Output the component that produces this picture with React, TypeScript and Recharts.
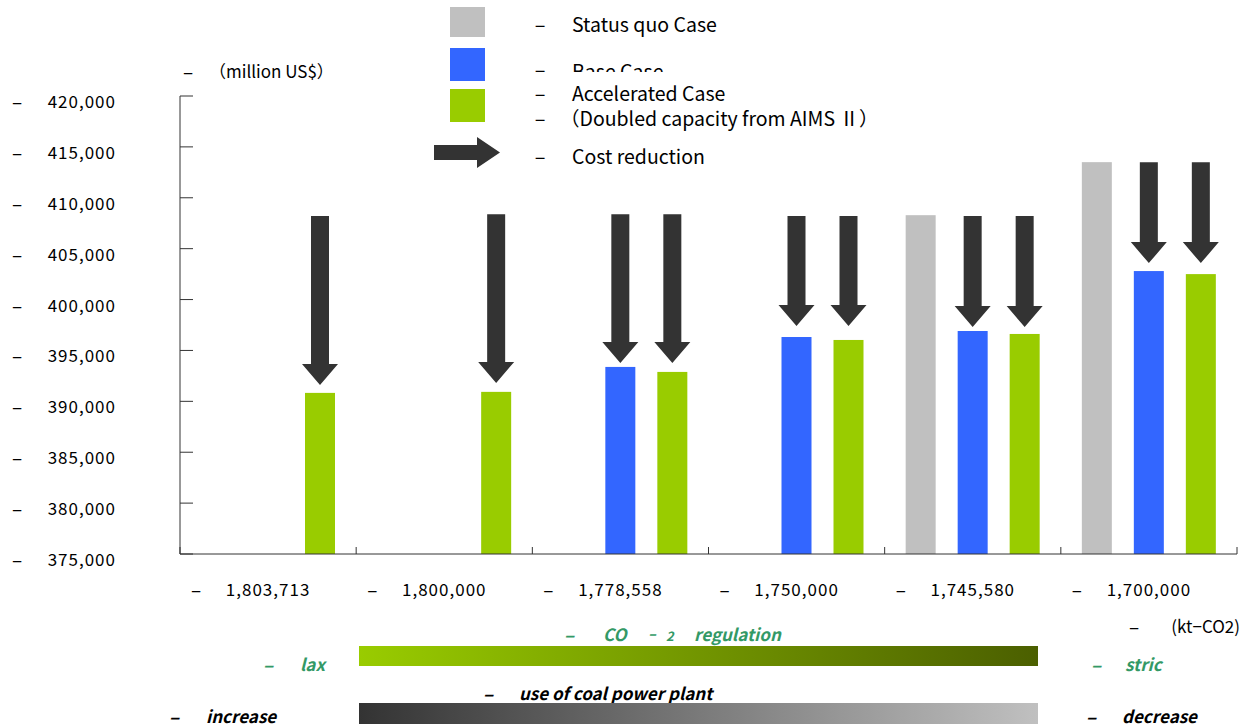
import React from 'react';
import { BarChart, Bar, XAxis, YAxis } from 'recharts';

// ---- data ----
const categories = ['1,803,713', '1,800,000', '1,778,558', '1,750,000', '1,745,580', '1,700,000'];
const statusQuo: (number | null)[] = [null, null, null, null, 408290, 413500];
const baseCase: (number | null)[] = [null, null, 393380, 396320, 396910, 402800];
const accelerated: (number | null)[] = [390830, 390930, 392890, 396030, 396620, 402500];
// cost-reduction arrows (start level and tip level)
const arrowFrom: number[] = [408200, 408390, 408390, 408200, 408200, 413500];
const baseArrowTo: (number | null)[] = [null, null, 393770, 397400, 397300, 403580];
const accelArrowTo: (number | null)[] = [391610, 391810, 393770, 397400, 397300, 403580];
const yTicks = [375000, 380000, 385000, 390000, 395000, 400000, 405000, 410000, 415000, 420000];

const data = categories.map((c, i) => ({
  category: c,
  statusQuo: statusQuo[i],
  base: baseCase[i],
  accel: accelerated[i],
  arrowFrom: arrowFrom[i],
  baseTo: baseArrowTo[i],
  accelTo: accelArrowTo[i],
}));

// ---- layout / style ----
const W = 1243;
const H = 727;
const MARGIN = { top: 96, right: 6, left: 0, bottom: 143 };
const Y_AXIS_W = 180;
const X_AXIS_H = 30;
const PLOT_W = W - MARGIN.left - MARGIN.right - Y_AXIS_W;
const BAND = PLOT_W / categories.length;
const Y_MIN = 375000;
const Y_MAX = 420000;

const GRAY = '#c0c0c0';
const BLUE = '#3366ff';
const GREEN = '#99cc00';
const ARROW = '#333333';
const AXIS = '#333333';
const TEXT_GREEN = '#339966';
const FONT = "'Noto Sans CJK JP', 'Noto Sans', sans-serif";

function arrowDown(cx: number, yTop: number, yTip: number, shaftW: number, headW: number, headLen: number) {
  const yHead = yTip - headLen;
  return `M${cx - shaftW / 2},${yTop} L${cx + shaftW / 2},${yTop} L${cx + shaftW / 2},${yHead} L${cx + headW / 2},${yHead} L${cx},${yTip} L${cx - headW / 2},${yHead} L${cx - shaftW / 2},${yHead} Z`;
}

const makeShape = (valueKey: string, toKey: string | null, fill: string) => (props: any) => {
  const { x, y, width, height, payload } = props;
  const v = payload ? payload[valueKey] : null;
  if (v == null || !(height > 0)) return <g />;
  const bottom = y + height;
  const ppu = height / (v - Y_MIN);
  const yOf = (val: number) => bottom - (val - Y_MIN) * ppu;
  const to = toKey ? payload[toKey] : null;
  return (
    <g>
      <rect x={x} y={y} width={width} height={height} fill={fill} />
      {to != null && payload.arrowFrom != null && (
        <path d={arrowDown(x + width / 2, yOf(payload.arrowFrom), yOf(to), 18, 36, 21)} fill={ARROW} />
      )}
    </g>
  );
};

const YTick = (props: any) => {
  const { y, payload } = props;
  return (
    <g fontFamily={FONT} fontSize={17} fill="#000">
      <text x={17} y={y + 4.5} textAnchor="middle" dominantBaseline="central" fontSize={19}>–</text>
      <text x={116} y={y + 4.5} textAnchor="end" dominantBaseline="central" letterSpacing={1}>
        {Number(payload.value).toLocaleString('en-US')}
      </text>
    </g>
  );
};

const XTick = (props: any) => {
  const { x, y, payload, index } = props;
  const half = BAND / 2;
  return (
    <g fontFamily={FONT} fontSize={17} fill="#000">
      <line x1={x - half} x2={x - half} y1={y} y2={y - 7} stroke={AXIS} />
      {index === categories.length - 1 && <line x1={x + half} x2={x + half} y1={y} y2={y - 7} stroke={AXIS} />}
      <text x={x - 72} y={y + 34} textAnchor="middle" dominantBaseline="central" fontSize={19}>–</text>
      <text x={x} y={y + 34} textAnchor="middle" dominantBaseline="central" letterSpacing={1}>
        {payload.value}
      </text>
    </g>
  );
};

const Dash = ({ x, y, fill = '#000', size = 19 }: any) => (
  <text x={x} y={y} textAnchor="middle" dominantBaseline="central" fontSize={size} fill={fill} fontFamily={FONT}>–</text>
);

const Overlay = () => (
  <svg width={W} height={H} style={{ position: 'absolute', left: 0, top: 0, pointerEvents: 'none' }} fontFamily={FONT}>
    <defs>
      <linearGradient id="gGreen" x1="0" x2="1" y1="0" y2="0">
        <stop offset="0%" stopColor="#99cc00" />
        <stop offset="100%" stopColor="#4b5f00" />
      </linearGradient>
      <linearGradient id="gGray" x1="0" x2="1" y1="0" y2="0">
        <stop offset="0%" stopColor="#333333" />
        <stop offset="100%" stopColor="#c0c0c0" />
      </linearGradient>
      <clipPath id="clipBase">
        <rect x={520} y={0} width={300} height={72} />
      </clipPath>
    </defs>

    {/* legend */}
    <rect x={450} y={7} width={35} height={30} fill={GRAY} />
    <rect x={450} y={48} width={35} height={33} fill={BLUE} />
    <rect x={450} y={89} width={35} height={33} fill={GREEN} />
    <path d="M434,145 L477,145 L477,137 L500,152.5 L477,168 L477,160 L434,160 Z" fill={ARROW} />

    <g fontSize={19.5} fill="#000">
      <Dash x={540} y={23} size={20} />
      <text x={572} y={23} dominantBaseline="central">Status quo Case</text>
      <Dash x={540} y={68} size={20} />
      <g clipPath="url(#clipBase)">
        <text x={572} y={70} dominantBaseline="central">Base Case</text>
      </g>
      <Dash x={540} y={92} size={20} />
      <text x={572} y={92} dominantBaseline="central">Accelerated Case</text>
      <Dash x={540} y={117} size={20} />
      <text x={560} y={117} dominantBaseline="central">（Doubled capacity from AIMS Ⅱ）</text>
      <Dash x={540} y={155} size={20} />
      <text x={572} y={155} dominantBaseline="central">Cost reduction</text>
    </g>

    {/* unit labels */}
    <Dash x={188} y={70} />
    <text x={209} y={70} dominantBaseline="central" fontSize={17}>（million US$）</text>
    <Dash x={1134} y={625} />
    <text x={1240} y={625} textAnchor="end" dominantBaseline="central" fontSize={17}>(kt−CO2)</text>

    {/* CO2 regulation scale */}
    <g fill={TEXT_GREEN} fontWeight={700} fontStyle="italic" fontSize={17}>
      <Dash x={569} y={633} fill={TEXT_GREEN} />
      <text x={603} y={633} dominantBaseline="central">CO</text>
      <text x={652} y={633} textAnchor="middle" dominantBaseline="central" fontSize={14}>–</text>
      <text x={666} y={635} dominantBaseline="central" fontSize={13}>2</text>
      <text x={694} y={633} dominantBaseline="central">regulation</text>
      <Dash x={268} y={663} fill={TEXT_GREEN} />
      <text x={300} y={663} dominantBaseline="central">lax</text>
      <Dash x={1096} y={663} fill={TEXT_GREEN} />
      <text x={1125} y={663} dominantBaseline="central">stric</text>
    </g>
    <rect x={359} y={646} width={679} height={20} fill="url(#gGreen)" />

    {/* coal power plant scale */}
    <g fill="#000" fontWeight={700} fontStyle="italic" fontSize={17}>
      <Dash x={488} y={692} />
      <text x={519} y={692} dominantBaseline="central">use of coal power plant</text>
      <Dash x={174} y={715} />
      <text x={206} y={715} dominantBaseline="central">increase</text>
      <Dash x={1091} y={715} />
      <text x={1122} y={715} dominantBaseline="central">decrease</text>
    </g>
    <rect x={359} y={703} width={679} height={21} fill="url(#gGray)" />
  </svg>
);

export default function App() {
  return (
    <div style={{ position: 'absolute', left: 0, top: 0, width: W, height: H, background: '#fff' }}>
      <BarChart
        width={W}
        height={H}
        data={data}
        margin={MARGIN}
        barSize={30}
        barGap={22}
      >
        <XAxis
          dataKey="category"
          height={X_AXIS_H}
          interval={0}
          tickLine={false}
          tickSize={0}
          tickMargin={0}
          axisLine={{ stroke: AXIS }}
          tick={<XTick />}
        />
        <YAxis
          type="number"
          domain={[Y_MIN, Y_MAX]}
          ticks={yTicks}
          width={Y_AXIS_W}
          tickSize={-13}
          tickLine={{ stroke: AXIS }}
          axisLine={{ stroke: AXIS }}
          tick={<YTick />}
          interval={0}
        />
        <Bar dataKey="statusQuo" fill={GRAY} isAnimationActive={false} shape={makeShape('statusQuo', null, GRAY)} />
        <Bar dataKey="base" fill={BLUE} isAnimationActive={false} shape={makeShape('base', 'baseTo', BLUE)} />
        <Bar dataKey="accel" fill={GREEN} isAnimationActive={false} shape={makeShape('accel', 'accelTo', GREEN)} />
      </BarChart>
      <Overlay />
    </div>
  );
}
